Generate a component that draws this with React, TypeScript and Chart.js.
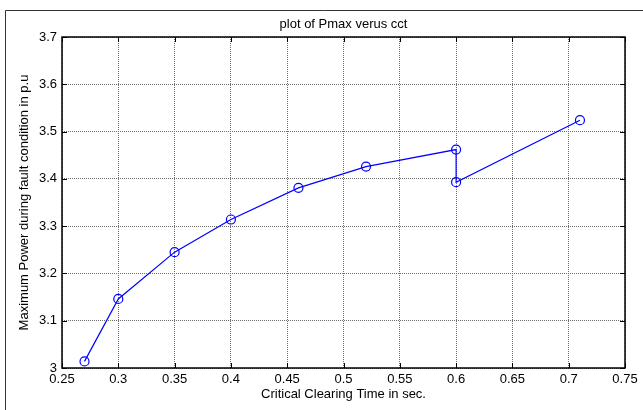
import React, { useEffect, useRef } from "react";
import { Chart, registerables } from "chart.js";

Chart.register(...registerables);

// Critical clearing time (s) and the matching maximum fault-condition power (p.u.)
const cctSeconds = [0.27, 0.3, 0.35, 0.4, 0.46, 0.52, 0.6, 0.6, 0.71];
const pmaxPu = [3.014, 3.146, 3.245, 3.314, 3.381, 3.426, 3.462, 3.393, 3.524];

const xTicks = [0.25, 0.3, 0.35, 0.4, 0.45, 0.5, 0.55, 0.6, 0.65, 0.7, 0.75];
const yTicks = [3, 3.1, 3.2, 3.3, 3.4, 3.5, 3.6, 3.7];

const chartTitle = "plot of Pmax verus cct";
const xTitle = "Critical Clearing Time in sec.";
const yTitle = "Maximum Power during fault condition in p.u";

const FONT = "Arial, 'Liberation Sans', sans-serif";

const fmt = (v: number) => String(Number(v.toFixed(2)));

// Frame, inward tick marks, titles and the figure border in MATLAB style
const matlabAxesPlugin = {
  id: "matlabAxes",
  afterDraw(chart: any) {
    const { ctx, chartArea } = chart;
    const { left, right, top, bottom } = chartArea;
    const xs = chart.scales.x;
    const ys = chart.scales.y;
    ctx.save();

    // figure border (left and top edges)
    ctx.strokeStyle = "#333";
    ctx.lineWidth = 1;
    ctx.beginPath();
    ctx.moveTo(5.5, 410);
    ctx.lineTo(5.5, 10.5);
    ctx.lineTo(643, 10.5);
    ctx.stroke();

    // axes box
    ctx.strokeStyle = "#000";
    ctx.lineWidth = 1.5;
    ctx.strokeRect(left, top, right - left, bottom - top);

    // inward ticks on all four sides
    ctx.lineWidth = 1;
    const tl = 5;
    ctx.beginPath();
    for (const v of xTicks) {
      const px = Math.round(xs.getPixelForValue(v)) + 0.5;
      ctx.moveTo(px, bottom);
      ctx.lineTo(px, bottom - tl);
      ctx.moveTo(px, top);
      ctx.lineTo(px, top + tl);
    }
    for (const v of yTicks) {
      const py = Math.round(ys.getPixelForValue(v)) + 0.5;
      ctx.moveTo(left, py);
      ctx.lineTo(left + tl, py);
      ctx.moveTo(right, py);
      ctx.lineTo(right - tl, py);
    }
    ctx.stroke();

    // titles
    ctx.fillStyle = "#000";
    ctx.font = `13px ${FONT}`;
    ctx.textAlign = "center";
    ctx.textBaseline = "middle";
    ctx.fillText(chartTitle, (left + right) / 2, 24);
    ctx.fillText(xTitle, (left + right) / 2, 394);
    ctx.translate(24, (top + bottom) / 2);
    ctx.rotate(-Math.PI / 2);
    ctx.fillText(yTitle, 0, 0);
    ctx.restore();
  },
};

export default function App() {
  const canvasRef = useRef<HTMLCanvasElement | null>(null);

  useEffect(() => {
    if (!canvasRef.current) return;
    const gridStyle = {
      color: "#6e6e6e",
      lineWidth: 1,
      drawTicks: false,
    };
    const chart = new Chart(canvasRef.current, {
      type: "line",
      data: {
        datasets: [
          {
            data: cctSeconds.map((x, i) => ({ x, y: pmaxPu[i] })),
            borderColor: "#0000ff",
            borderWidth: 1.2,
            pointStyle: "circle",
            pointRadius: 4.5,
            pointBorderWidth: 1.2,
            pointBorderColor: "#0000ff",
            pointBackgroundColor: "rgba(0,0,0,0)",
            tension: 0,
            fill: false,
          },
        ],
      },
      options: {
        animation: false,
        responsive: false,
        events: [],
        layout: { padding: { top: 37, right: 18, left: 0, bottom: 0 } },
        plugins: {
          legend: { display: false },
          title: { display: false },
          tooltip: { enabled: false },
        },
        scales: {
          x: {
            type: "linear",
            min: 0.25,
            max: 0.75,
            afterBuildTicks: (s: any) => {
              s.ticks = xTicks.map((value) => ({ value }));
            },
            afterFit: (s: any) => {
              s.height = 42;
            },
            grid: gridStyle,
            border: { display: false, dash: [1, 1] },
            ticks: {
              padding: 4,
              color: "#000",
              font: { family: FONT, size: 13 },
              maxRotation: 0,
              autoSkip: false,
              callback: (v: any) => fmt(Number(v)),
            },
          },
          y: {
            type: "linear",
            min: 3,
            max: 3.7,
            afterBuildTicks: (s: any) => {
              s.ticks = yTicks.map((value) => ({ value }));
            },
            afterFit: (s: any) => {
              s.width = 62;
            },
            grid: gridStyle,
            border: { display: false, dash: [1, 1] },
            ticks: {
              padding: 5,
              color: "#000",
              font: { family: FONT, size: 13 },
              autoSkip: false,
              callback: (v: any) => fmt(Number(v)),
            },
          },
        },
      },
      plugins: [matlabAxesPlugin],
    });
    return () => chart.destroy();
  }, []);

  return (
    <div style={{ position: "absolute", left: 0, top: 0, width: 643, height: 410, background: "#fff" }}>
      <canvas ref={canvasRef} width={643} height={410} />
    </div>
  );
}
